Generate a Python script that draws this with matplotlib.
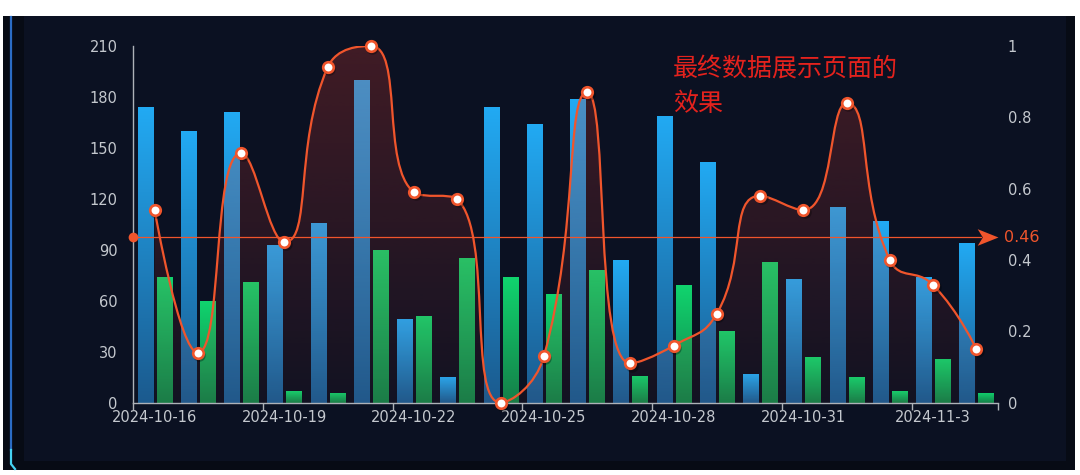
import numpy as np
import matplotlib
matplotlib.use('Agg')
import matplotlib.pyplot as plt
from matplotlib.path import Path
from matplotlib.patches import PathPatch, Rectangle
from matplotlib.lines import Line2D
from matplotlib.colors import to_rgba
import matplotlib.transforms as mtransforms

dates = ['2024-10-16', '2024-10-17', '2024-10-18', '2024-10-19', '2024-10-20',
         '2024-10-21', '2024-10-22', '2024-10-23', '2024-10-24', '2024-10-25',
         '2024-10-26', '2024-10-27', '2024-10-28', '2024-10-29', '2024-10-30',
         '2024-10-31', '2024-11-1', '2024-11-2', '2024-11-3', '2024-11-4']
blue_vals = [174, 160, 171, 93, 106, 190, 49, 15, 174, 164,
             179, 84, 169, 142, 17, 73, 115, 107, 74, 94]
green_vals = [74, 60, 71, 7, 6, 90, 51, 85, 74, 64,
              78, 16, 69, 42, 83, 27, 15, 7, 26, 6]
rate_vals = [0.54, 0.14, 0.70, 0.45, 0.94, 1.0, 0.59, 0.57, 0.0, 0.13,
             0.87, 0.11, 0.16, 0.25, 0.58, 0.54, 0.84, 0.40, 0.33, 0.15]
left_ticks = [0, 30, 60, 90, 120, 150, 180, 210]
right_ticks = [0, 0.2, 0.4, 0.6, 0.8, 1]
right_labels = ['0', '0.2', '0.4', '0.6', '0.8', '1']
note = '最终数据展示页面的\n效果'

W, H = 1080, 475
line_c = '#f0552c'
txt_c = '#c4c8ce'


def grad_img(axis, clip, extent, c_top, c_bot, z):
    t = np.linspace(0, 1, 256)[:, None]
    c0 = np.array(to_rgba(c_bot[0], c_bot[1]))
    c1 = np.array(to_rgba(c_top[0], c_top[1]))
    img = (c0 + (c1 - c0) * t)[:, None, :]
    im = axis.imshow(img, extent=extent, origin='lower', aspect='auto',
                     interpolation='bilinear', zorder=z)
    im.set_clip_path(clip)
    return im


def smooth_path(xs, ys, sx, sy, smooth=0.5):
    # echarts 5 style smoothing (with extreme constraint), done in pixel units
    P = [(a * sx, b * sy) for a, b in zip(xs, ys)]
    n = len(P)
    verts = [P[0]]
    codes = [Path.MOVETO]
    cpx0, cpy0 = P[0]
    for i in range(1, n):
        x, y = P[i]
        px, py = P[i - 1]
        if i == n - 1:
            cpx1, cpy1 = x, y
            ncx, ncy = x, y
        else:
            nx, ny = P[i + 1]
            vx, vy = nx - px, ny - py
            l0 = np.hypot(x - px, y - py)
            l1 = np.hypot(nx - x, ny - y)
            r = l1 / (l0 + l1)
            ncx = x + vx * smooth * r
            ncy = y + vy * smooth * r
            ncx = max(min(ncx, max(nx, x)), min(nx, x))
            ncy = max(min(ncy, max(ny, y)), min(ny, y))
            vx, vy = ncx - x, ncy - y
            cpx1 = x - vx * l0 / l1
            cpy1 = y - vy * l0 / l1
            cpx1 = max(min(cpx1, max(px, x)), min(px, x))
            cpy1 = max(min(cpy1, max(py, y)), min(py, y))
            vx, vy = x - cpx1, y - cpy1
            ncx = x + vx * l1 / l0
            ncy = y + vy * l1 / l0
        verts += [(cpx0, cpy0), (cpx1, cpy1), (x, y)]
        codes += [Path.CURVE4] * 3
        cpx0, cpy0 = ncx, ncy
    verts = [(a / sx, b / sy) for a, b in verts]
    return verts, codes


fig = plt.figure(figsize=(W / 100, H / 100), dpi=100, facecolor='white')
fig.patches.append(Rectangle((3 / W, 1 - 470 / H), 1072 / W, 454 / H, transform=fig.transFigure,
                             facecolor='#070b15', edgecolor='none', zorder=-3))
fig.patches.append(Rectangle((24 / W, 1 - 461 / H), 1042 / W, 445 / H, transform=fig.transFigure,
                             facecolor='#0b1122', edgecolor='none', zorder=-2))
fig.lines.append(Line2D([11 / W, 11 / W], [1 - 450 / H, 1 - 17 / H], transform=fig.transFigure,
                        color='#2b6cc4', lw=1.6, zorder=-1))
fig.lines.append(Line2D([11 / W, 11 / W, 15 / W], [1 - 450 / H, 1 - 464 / H, 1 - 469 / H],
                        transform=fig.transFigure, color='#45d2f2', lw=1.6, zorder=-1))

ax = fig.add_axes([133 / W, 1 - 402.7 / H, 865 / W, 356.7 / H])
ax.set_facecolor('none')
x = np.arange(len(dates))

bw = 0.35
blue_bars = ax.bar(x - 0.22, blue_vals, width=bw, color='none', edgecolor='none')
green_bars = ax.bar(x + 0.22, green_vals, width=bw, color='none', edgecolor='none')
for b in blue_bars:
    grad_img(ax, b, [b.get_x(), b.get_x() + b.get_width(), 0, b.get_height()],
             ('#22aaf3', 1), ('#1b5a8e', 1), 2)
for b in green_bars:
    grad_img(ax, b, [b.get_x(), b.get_x() + b.get_width(), 0, b.get_height()],
             ('#10d46e', 1), ('#157f49', 1), 2)

ax.set_xlim(-0.5, len(dates) - 0.5)
ax.set_ylim(0, 210)
ax.set_yticks(left_ticks)
ax.set_xticks(x[::3])
ax.set_xticklabels([dates[i] for i in x[::3]])
ax.set_xticks(list(np.arange(-0.5, len(dates) - 1, 3)) + [len(dates) - 0.5], minor=True)
ax.tick_params(axis='x', which='major', length=0, pad=5, labelsize=10.5, labelcolor=txt_c)
ax.tick_params(axis='x', which='minor', length=5, width=1, color='#aeb2b8', direction='out')
ax.tick_params(axis='y', length=0, pad=11, labelsize=10.5, labelcolor=txt_c)
for s in ['top', 'right']:
    ax.spines[s].set_visible(False)
for s in ['left', 'bottom']:
    ax.spines[s].set_color('#aeb2b8')
    ax.spines[s].set_linewidth(1)

ax2 = ax.twinx()
ax2.set_ylim(0, 1)
ax2.set_yticks(right_ticks)
ax2.set_yticklabels(right_labels)
ax2.tick_params(axis='y', length=0, pad=7, labelsize=10.5, labelcolor=txt_c)
for s in ax2.spines.values():
    s.set_visible(False)

# smooth line + area
sx = 865 / len(dates)
sy = 356.7
verts, codes = smooth_path(list(x), rate_vals, sx, sy)
line_path = Path(verts, codes)
area_verts = verts + [(x[-1], 0), (x[0], 0), (x[0], 0)]
area_codes = codes + [Path.LINETO, Path.LINETO, Path.CLOSEPOLY]
area_patch = PathPatch(Path(area_verts, area_codes), transform=ax2.transData,
                       facecolor='none', edgecolor='none')
ax2.add_patch(area_patch)
grad_img(ax2, area_patch, [-0.5, len(dates) - 0.5, 0, max(rate_vals)],
         ('#d2382e', 0.27), ('#d2382e', 0.04), 1)
ax2.add_patch(PathPatch(line_path, facecolor='none', edgecolor=line_c, lw=1.6, zorder=3))

shadow = mtransforms.offset_copy(ax2.transData, fig=fig, x=1.0, y=-1.5, units='points')
ax2.plot(x, rate_vals, 'o', ms=9, color='black', alpha=0.3, mew=0, transform=shadow,
         zorder=4, clip_on=False)
ax2.plot(x, rate_vals, 'o', ms=7.6, mfc='white', mec=line_c, mew=1.9, zorder=5, clip_on=False)

# average mark line
avg = np.mean(rate_vals)
ax2.plot([-0.5, len(dates) - 0.9], [avg, avg], color=line_c, lw=0.9, zorder=3, clip_on=False)
ax2.plot(-0.5, avg, 'o', ms=7, color=line_c, mew=0, zorder=6, clip_on=False)
arrow = Path([(0, 0), (-2, 0.8), (-1.5, 0), (-2, -0.8), (0, 0)],
             [Path.MOVETO, Path.LINETO, Path.LINETO, Path.LINETO, Path.CLOSEPOLY])
ax2.plot(len(dates) - 0.5, avg, marker=arrow, ms=30, color=line_c, mew=0, zorder=6, clip_on=False)
ax2.annotate(f'{avg:.2f}', xy=(len(dates) - 0.5, avg), xytext=(4.5, 0), textcoords='offset points',
             ha='left', va='center', fontsize=11.5, color=line_c, annotation_clip=False)
ax2.set_xlim(-0.5, len(dates) - 0.5)
ax2.set_ylim(0, 1)

fig.text(673 / W, 1 - 56 / H, note, ha='left', va='top', fontsize=18, color='#e4221d',
         family=['Noto Sans CJK SC', 'DejaVu Sans'], linespacing=1.45)

fig.savefig('out.png', dpi=100, facecolor=fig.get_facecolor())
